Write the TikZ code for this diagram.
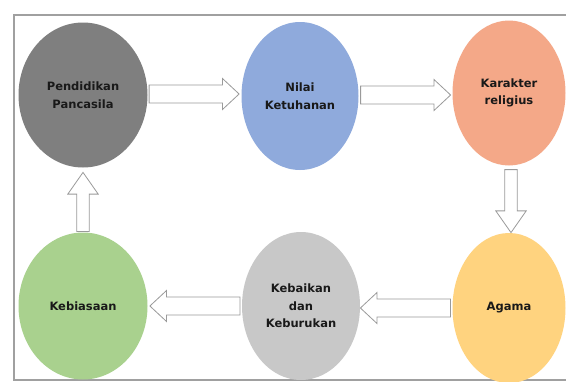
\documentclass[tikz,border=0pt]{standalone}
\usepackage{fontspec}
\setmainfont{DejaVu Sans}
\usetikzlibrary{shapes.geometric,shapes.arrows,calc}
\definecolor{cPend}{HTML}{7F7F7F}
\definecolor{cNilai}{HTML}{8FAADC}
\definecolor{cKar}{HTML}{F4A888}
\definecolor{cAg}{HTML}{FFD37F}
\definecolor{cKeb}{HTML}{C8C8C8}
\definecolor{cHab}{HTML}{A9D18E}
\definecolor{cFrame}{HTML}{A0A0A0}
\definecolor{cArrow}{HTML}{9A9A9A}
\tikzset{
  bubble/.style={ellipse, draw=none, inner sep=0pt, align=center,
    font=\fontsize{11.5}{17.5}\selectfont\bfseries, text=black!90},
  harrow/.style={single arrow, draw=cArrow, fill=white, line width=0.8pt,
    inner xsep=0pt, inner ysep=8.5pt, minimum width=31pt, single arrow head extend=6.5pt,
    single arrow tip angle=86, anchor=tail},
  varrow/.style={single arrow, draw=cArrow, fill=white, line width=0.8pt,
    inner xsep=0pt, inner ysep=5.8pt, minimum width=29pt, single arrow head extend=9pt,
    single arrow tip angle=70, anchor=tail},
}
\begin{document}
\begin{tikzpicture}[x=1pt,y=-1pt]
\useasboundingbox (0,0) rectangle (566,381);
\fill[white] (0,0) rectangle (566,381);
\draw[cFrame, line width=1.4pt] (567,15) -- (14,15) -- (14,380) -- (567,380);
\node[bubble, fill=cPend, minimum width=129pt, minimum height=145pt] (pend) at (83,95) {Pendidikan\\Pancasila};
\node[bubble, fill=cNilai, minimum width=117pt, minimum height=148pt] (nilai) at (300,96) {Nilai\\Ketuhanan};
\node[bubble, fill=cKar, minimum width=113pt, minimum height=145pt] (kar) at (509,93) {Karakter\\religius};
\node[bubble, fill=cAg, minimum width=113pt, minimum height=150pt] (agama) at (509,308) {Agama};
\node[bubble, fill=cKeb, minimum width=118pt, minimum height=148pt] (keb) at (301,306) {Kebaikan\\dan\\Keburukan};
\node[bubble, fill=cHab, minimum width=129pt, minimum height=147pt] (hab) at (83,306) {Kebiasaan};
\node[harrow, minimum height=90pt] (a1) at ($(pend.east)+(1,-1)$) {};
\node[harrow, minimum height=90pt] (a2) at ($(nilai.east)+(1.5,-1)$) {};
\node[varrow, minimum height=63pt, rotate=-90] (a3) at ($(kar.south)+(2,3.5)$) {};
\node[harrow, minimum height=90pt, rotate=180] (a4) at ($(agama.west)+(-1.5,0)$) {};
\node[harrow, minimum height=90pt, rotate=180] (a5) at ($(keb.west)+(-1.5,0)$) {};
\node[varrow, minimum height=59pt, rotate=90] (a6) at ($(hab.north)+(0,-0.5)$) {};
\end{tikzpicture}
\end{document}
